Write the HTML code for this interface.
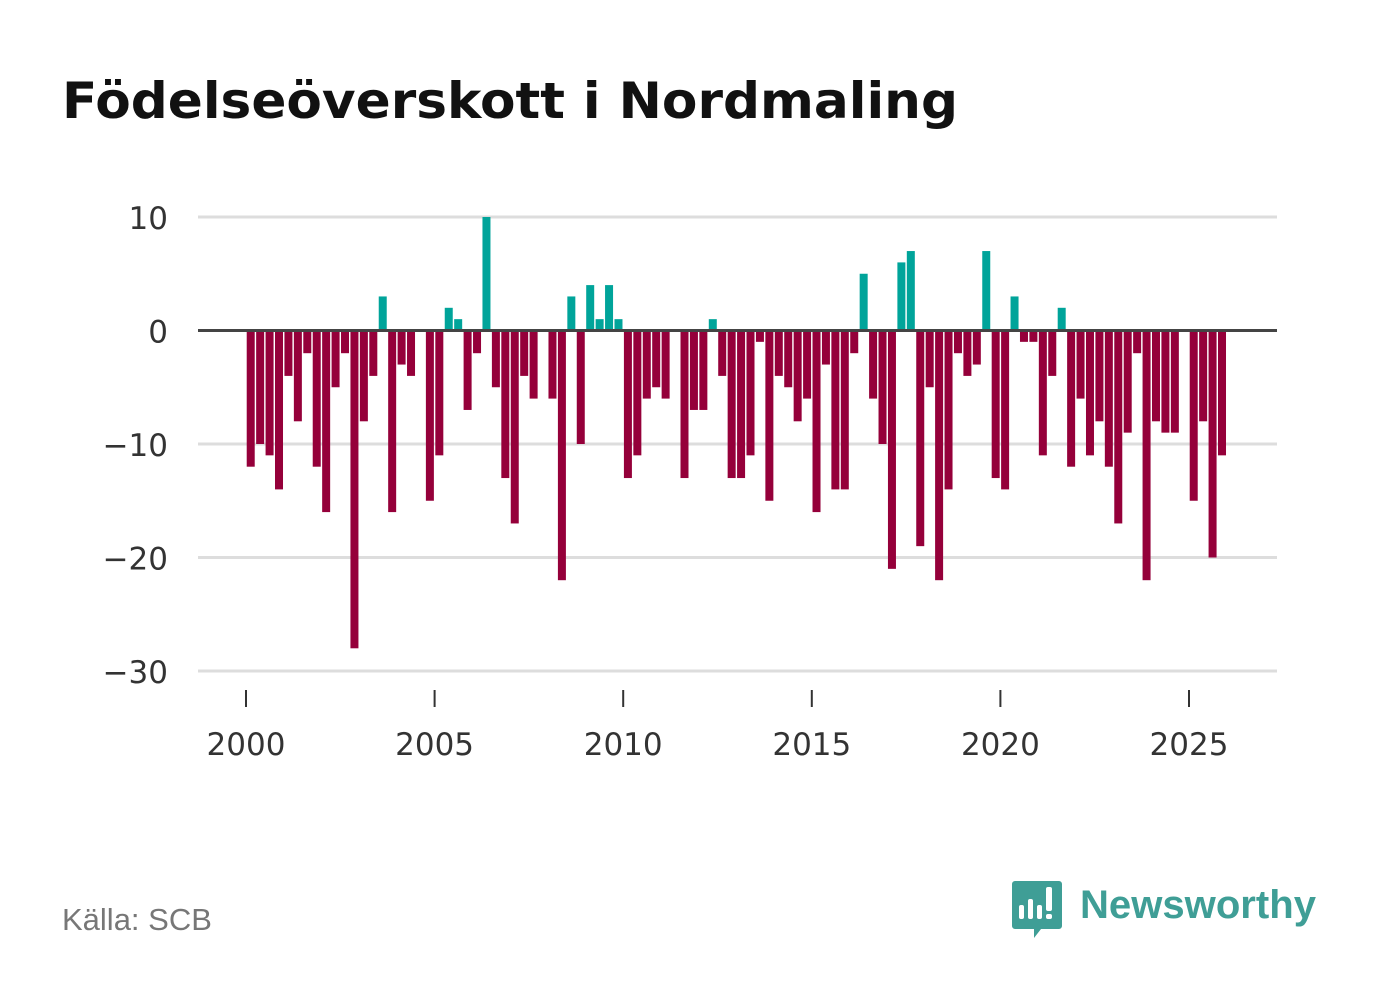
<!DOCTYPE html>
<html><head><meta charset="utf-8"><style>
body{margin:0;background:#fff;width:1382px;height:999px;overflow:hidden;font-family:"Liberation Sans",sans-serif}
</style></head><body>
<svg id="chart" width="1382" height="999" xmlns="http://www.w3.org/2000/svg">
<text x="62" y="118" font-size="50" font-weight="bold" fill="#111" font-family="DejaVu Sans, sans-serif" textLength="896" lengthAdjust="spacingAndGlyphs">Födelseöverskott i Nordmaling</text>
<g id="grid"></g>
<g id="bars"></g>
<g id="xaxis"></g>
<text x="62" y="930" font-size="31" fill="#777">Källa: SCB</text>
<g>
<path d="M1015 881 h44 a3 3 0 0 1 3 3 v42 a3 3 0 0 1 -3 3 h-18 l-7 9 v-9 h-19 a3 3 0 0 1 -3 -3 v-42 a3 3 0 0 1 3 -3z" fill="#3f9e96"/>
<rect x="1019" y="905" width="5" height="14" rx="2" fill="#fff"/>
<rect x="1028" y="899" width="5" height="20" rx="2" fill="#fff"/>
<rect x="1037" y="905" width="5" height="14" rx="2" fill="#fff"/>
<rect x="1046" y="887" width="6" height="24" rx="2" fill="#fff"/>
<rect x="1046" y="914" width="6" height="5" rx="2" fill="#fff"/>
<text x="1080" y="918" font-size="40" font-weight="bold" fill="#3f9e96" textLength="236" lengthAdjust="spacingAndGlyphs">Newsworthy</text>
</g>
</svg>
<script>
const years=[2000,2005,2010,2015,2020,2025];
const yTicks=[10,0,-10,-20,-30];
const yTickLabels=["10","0","−10","−20","−30"];
const values=[-12,-10,-11,-14,-4,-8,-2,-12,-16,-5,-2,-28,-8,-4,3,-16,-3,-4,0,-15,-11,2,1,-7,-2,10,-5,-13,-17,-4,-6,0,-6,-22,3,-10,4,1,4,1,-13,-11,-6,-5,-6,0,-13,-7,-7,1,-4,-13,-13,-11,-1,-15,-4,-5,-8,-6,-16,-3,-14,-14,-2,5,-6,-10,-21,6,7,-19,-5,-22,-14,-2,-4,-3,7,-13,-14,3,-1,-1,-11,-4,2,-12,-6,-11,-8,-12,-17,-9,-2,-22,-8,-9,-9,0,-15,-8,-20,-11];
const NS="http://www.w3.org/2000/svg";
const xs=t=>246+(t-2000)*37.72;
const ys=v=>330.5-v*11.35;
const grid=document.getElementById('grid'),bars=document.getElementById('bars'),xa=document.getElementById('xaxis');
function mk(tag,attrs,parent){const e=document.createElementNS(NS,tag);for(const k in attrs)e.setAttribute(k,attrs[k]);parent.appendChild(e);return e;}
yTicks.forEach((v,i)=>{
  if(v!==0){const l=mk('line',{x1:198,x2:1277,y1:ys(v),y2:ys(v),stroke:'#dddddd','stroke-width':3},grid);
  
  }
  const t=mk('text',{x:168,y:ys(v)+12,'font-size':31,fill:'#333','text-anchor':'end','font-family':'DejaVu Sans, sans-serif'},grid);
  t.textContent=yTickLabels[i];
  
  
});
values.forEach((v,i)=>{
  const c=xs(2000+(i+0.5)/4);
  if(v===0)return;
  const y0=ys(0),y1=ys(v);
  const r=mk('rect',{x:c-4,y:Math.min(y0,y1),width:8,height:Math.abs(y1-y0),fill:v>0?'#00a49a':'#95003a'},bars);
  
  
});
const z=mk('line',{x1:198,x2:1277,y1:ys(0),y2:ys(0),stroke:'#444','stroke-width':3},bars);


years.forEach(y=>{
  const tk=mk('line',{x1:xs(y),x2:xs(y),y1:690,y2:707,stroke:'#333','stroke-width':2},xa);
  
  
  const t=mk('text',{x:xs(y),y:755,'font-size':31,fill:'#333','text-anchor':'middle','font-family':'DejaVu Sans, sans-serif'},xa);
  t.textContent=y;
  
  
});
</script>
</body></html>
